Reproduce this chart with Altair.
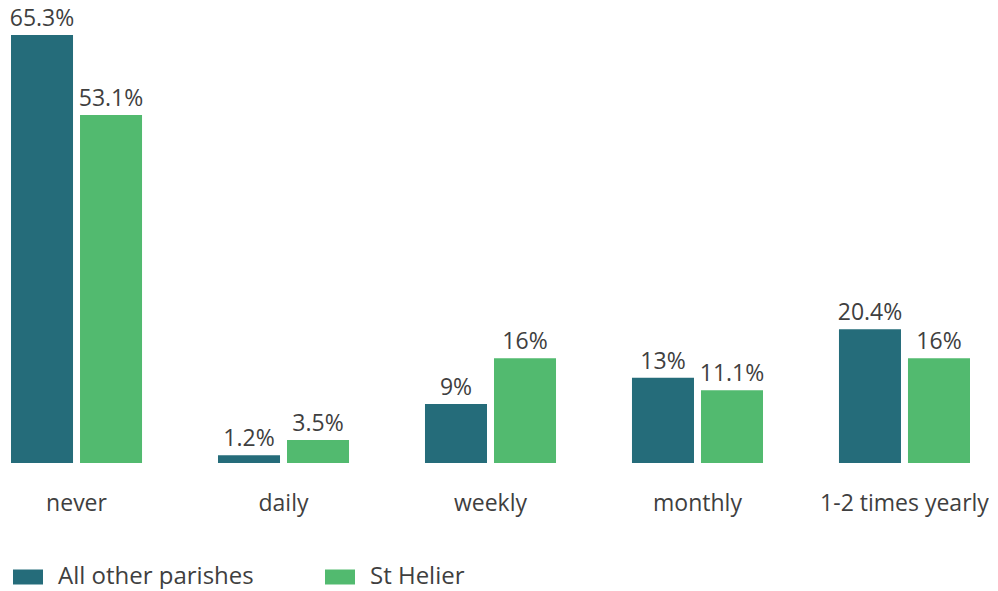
import altair as alt
import pandas as pd

categories = ["never", "daily", "weekly", "monthly", "1-2 times yearly"]
series = ["All other parishes", "St Helier"]
other_parishes = [65.3, 1.2, 9, 13, 20.4]
st_helier = [53.1, 3.5, 16, 11.1, 16]
colors = ["#256C7A", "#52BA6F"]

rows = []
for i, c in enumerate(categories):
    rows.append({"cat": c, "series": series[0], "value": other_parishes[i]})
    rows.append({"cat": c, "series": series[1], "value": st_helier[i]})
df = pd.DataFrame(rows)
df["label"] = df["value"].map(lambda v: f"{v:g}%")

FONT = "Open Sans"
TXT = "#3f3f3f"

base = alt.Chart(df).encode(
    x=alt.X("cat:N", sort=categories,
            scale=alt.Scale(paddingInner=0.367, paddingOuter=0.0145),
            axis=alt.Axis(title=None, labelAngle=0, domain=False, ticks=False,
                          labelFont=FONT, labelFontSize=23, labelColor=TXT,
                          labelPadding=29)),
    xOffset=alt.XOffset("series:N", sort=series,
                        scale=alt.Scale(paddingInner=0.1014, paddingOuter=0)),
    y=alt.Y("value:Q", scale=alt.Scale(domain=[0, 69.27], nice=False),
            axis=None),
)

bars = base.mark_bar().encode(
    color=alt.Color("series:N", sort=series,
                    scale=alt.Scale(domain=series, range=colors),
                    legend=alt.Legend(title=None, orient="none", direction="horizontal",
                                      legendX=5, legendY=553,
                                      symbolType="M-1,-0.5 L1,-0.5 L1,0.5 L-1,0.5 Z",
                                      symbolSize=900, symbolStrokeWidth=0,
                                      symbolOpacity=1,
                                      labelFont=FONT, labelFontSize=24, labelColor=TXT,
                                      labelOffset=15, columnPadding=71,
                                      labelLimit=400)),
)

text = base.mark_text(baseline="alphabetic", dy=-9, font=FONT, fontSize=23, color=TXT).encode(
    text="label:N"
)

chart = (bars + text).properties(
    width=965, height=454, padding=0
).configure_view(stroke=None).configure_legend(symbolStrokeWidth=0)

chart.save("out.html", embed_options={"renderer": "svg", "actions": False})
